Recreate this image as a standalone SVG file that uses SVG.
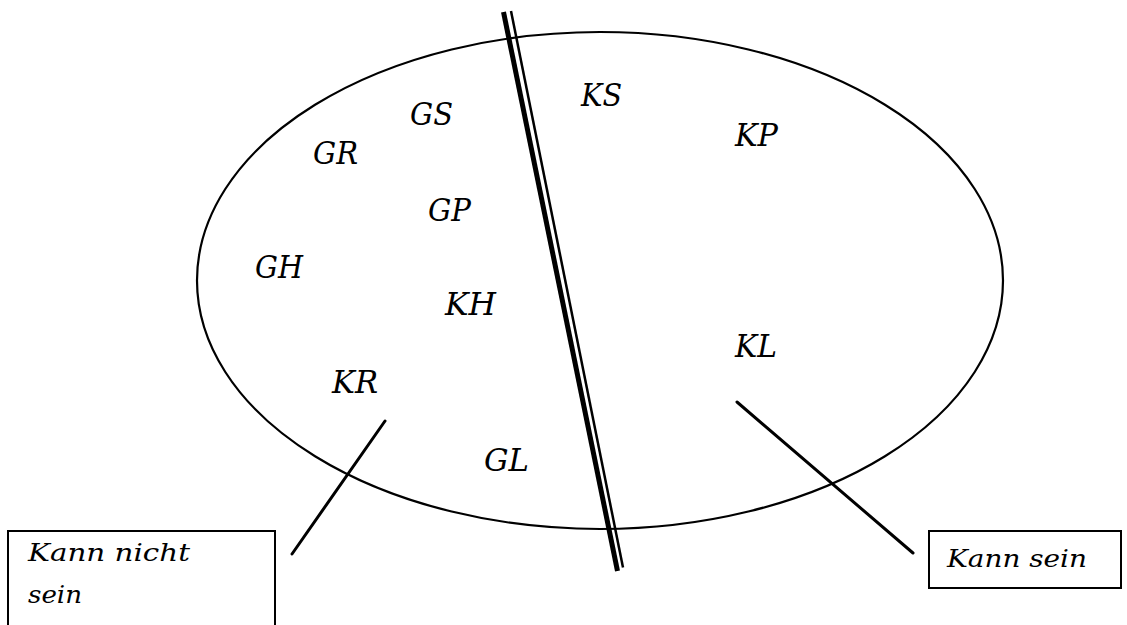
<svg xmlns="http://www.w3.org/2000/svg" width="1127" height="625" viewBox="0 0 1127 625">
<style>
.lbl{font-family:"DejaVu Serif","Liberation Serif",serif;font-style:italic;font-size:32px;fill:#000}
.box{fill:#fff;stroke:#000;stroke-width:2}
.btxt{font-family:"DejaVu Serif","Liberation Serif",serif;font-style:italic;font-size:24px;fill:#000}
.conn{stroke:#000;stroke-width:3;fill:none;stroke-linecap:round}
</style>
<rect width="1127" height="625" fill="#fff"/>
<g id="set">
<ellipse cx="600" cy="280.5" rx="403" ry="248.5" fill="none" stroke="#000" stroke-width="2.2"/>
</g>
<g id="divider">
<line x1="503.5" y1="12" x2="617.5" y2="571" stroke="#000" stroke-width="5"/>
<line x1="511" y1="11" x2="623" y2="567.5" stroke="#000" stroke-width="2.5"/>
</g>
<g id="labels">
<text class="lbl" x="410" y="125" textLength="43" lengthAdjust="spacingAndGlyphs">GS</text>
<text class="lbl" x="313" y="164" textLength="45" lengthAdjust="spacingAndGlyphs">GR</text>
<text class="lbl" x="428" y="221" textLength="43" lengthAdjust="spacingAndGlyphs">GP</text>
<text class="lbl" x="255" y="278" textLength="48" lengthAdjust="spacingAndGlyphs">GH</text>
<text class="lbl" x="445" y="315" textLength="51" lengthAdjust="spacingAndGlyphs">KH</text>
<text class="lbl" x="332" y="393" textLength="46" lengthAdjust="spacingAndGlyphs">KR</text>
<text class="lbl" x="484" y="471" textLength="45" lengthAdjust="spacingAndGlyphs">GL</text>
<text class="lbl" x="581" y="106" textLength="41" lengthAdjust="spacingAndGlyphs">KS</text>
<text class="lbl" x="735" y="146" textLength="43" lengthAdjust="spacingAndGlyphs">KP</text>
<text class="lbl" x="735" y="357" textLength="42" lengthAdjust="spacingAndGlyphs">KL</text>
</g>
<g id="connectors">
<line class="conn" x1="385" y1="421" x2="292" y2="554"/>
<line class="conn" x1="737" y1="402" x2="913" y2="553"/>
</g>
<g id="box-nicht">
<rect class="box" x="8" y="531" width="267" height="110"/>
<text class="btxt" x="28" y="561" textLength="162" lengthAdjust="spacingAndGlyphs">Kann nicht</text>
<text class="btxt" x="28" y="603" textLength="54" lengthAdjust="spacingAndGlyphs">sein</text>
</g>
<g id="box-sein">
<rect class="box" x="929" y="531" width="192" height="57"/>
<text class="btxt" x="947" y="567" textLength="140" lengthAdjust="spacingAndGlyphs">Kann sein</text>
</g>
</svg>
